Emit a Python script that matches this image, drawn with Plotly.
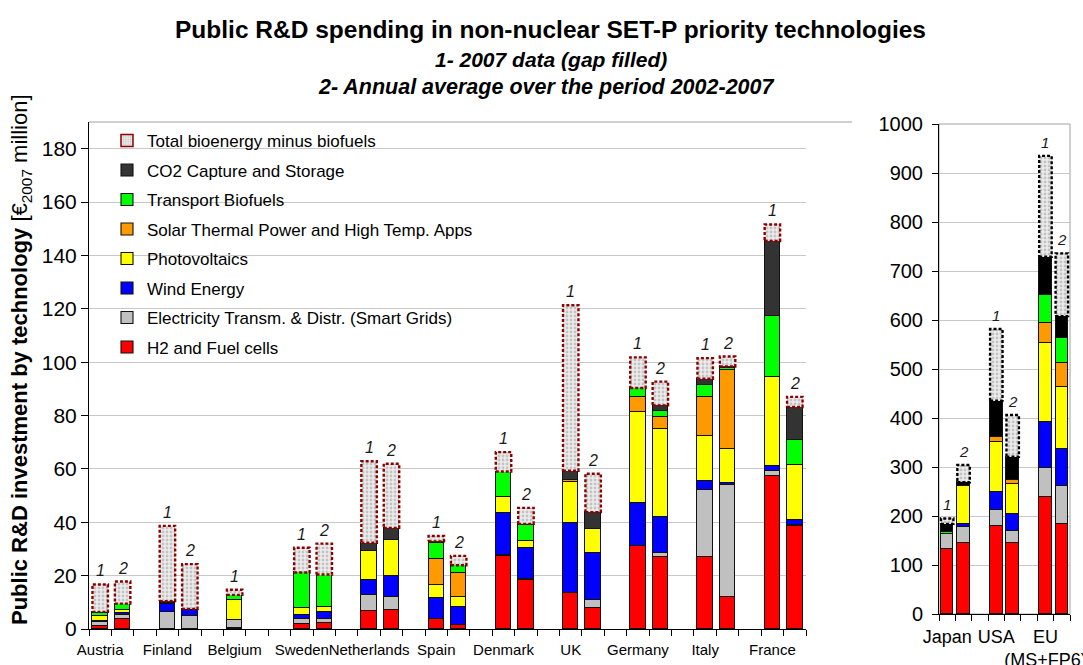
import plotly.graph_objects as go

# ---------------- data ----------------
countries = ["Austria", "Finland", "Belgium", "Sweden", "Netherlands", "Spain",
             "Denmark", "UK", "Germany", "Italy", "France"]

# "1" = 2007 data (gap filled), "2" = annual average 2002-2007  [EUR2007 million]
h2_1      = [1.0, 0.0, 0.3, 1.9, 6.75, 3.9, 27.3, 13.4, 31.1, 27.1, 57.5]
grid_1    = [1.7, 6.5, 3.1, 1.7, 6.1, 0.0, 0.5, 0.0, 0.0, 25.0, 1.6]
wind_1    = [0.3, 2.75, 0.0, 1.6, 5.4, 7.6, 15.7, 26.5, 16.3, 3.3, 1.9]
pv_1      = [1.9, 0.6, 7.5, 2.5, 11.0, 5.0, 6.1, 15.1, 33.9, 17.0, 33.4]
solar_1   = [0.0, 0.0, 0.0, 0.0, 0.0, 9.75, 0.0, 0.9, 5.7, 14.7, 0.0]
biofuel_1 = [1.2, 0.0, 1.9, 13.5, 0.0, 5.9, 9.4, 0.0, 3.3, 4.2, 22.9]
ccs_1     = [0.3, 0.6, 0.0, 0.0, 3.1, 0.7, 0.0, 3.4, 0.0, 2.5, 28.1]
bio_1     = [10.3, 28.2, 1.9, 9.25, 30.5, 2.0, 7.3, 62.0, 11.5, 7.7, 6.2]

h2_2      = [3.7, 0.0, None, 2.1, 7.1, 1.5, 18.3, 7.9, 26.8, 11.9, 38.5]
grid_2    = [1.7, 4.9, None, 1.6, 5.0, 0.0, 0.6, 3.0, 1.8, 41.9, 0.5]
wind_2    = [0.6, 2.2, None, 2.5, 7.6, 6.9, 11.3, 17.7, 13.5, 1.1, 1.9]
pv_2      = [1.0, 0.0, None, 2.1, 13.6, 3.7, 2.6, 8.9, 32.8, 12.4, 20.4]
solar_2   = [0.0, 0.0, None, 0.0, 0.0, 9.0, 0.0, 0.0, 4.6, 29.6, 0.0]
biofuel_2 = [2.5, 0.0, None, 12.1, 0.0, 2.8, 6.3, 0.0, 2.3, 1.0, 9.4]
ccs_2     = [0.0, 0.4, None, 0.0, 4.6, 0.0, 0.3, 6.3, 2.0, 0.5, 12.5]
bio_2     = [8.3, 16.8, None, 11.6, 24.0, 3.5, 6.0, 14.4, 8.9, 3.7, 3.8]

regions = ["Japan", "USA", "EU<br>(MS+FP6)"]
r_h2_1      = [133, 180, 238]
r_grid_1    = [31, 33, 60]
r_wind_1    = [0, 37, 93]
r_pv_1      = [0, 102, 163]
r_solar_1   = [0, 9.5, 39]
r_biofuel_1 = [3, 0, 58]
r_ccs_1     = [17, 74, 78]
r_bio_1     = [11, 146, 206]

r_h2_2      = [145, 145, 184]
r_grid_2    = [33, 25, 77.5]
r_wind_2    = [6, 34, 75.5]
r_pv_2      = [77, 61, 127]
r_solar_2   = [0, 9, 49]
r_biofuel_2 = [0, 0, 51]
r_ccs_2     = [8, 47, 44]
r_bio_2     = [35, 85, 128]

tech_names = ["H2 and Fuel cells", "Electricity Transm. & Distr. (Smart Grids)",
              "Wind Energy", "Photovoltaics", "Solar Thermal Power and High Temp. Apps",
              "Transport Biofuels", "CO2 Capture and Storage"]
bio_name = "Total bioenergy minus biofuels"

# ---------------- styling ----------------
W, H = 1083, 665
FONT = "Liberation Sans, Arial, sans-serif"
NARROW = "Liberation Sans Narrow, Arial Narrow, Liberation Sans, sans-serif"
left_colors = ["#FF0000", "#C0C0C0", "#0000FF", "#FFFF00", "#FF9900", "#00FF00", "#333333"]
right_colors = ["#FF0000", "#C0C0C0", "#0000FF", "#FFFF00", "#FF9900", "#00FF00", "#000000"]

left_1 = [h2_1, grid_1, wind_1, pv_1, solar_1, biofuel_1, ccs_1]
left_2 = [h2_2, grid_2, wind_2, pv_2, solar_2, biofuel_2, ccs_2]
right_1 = [r_h2_1, r_grid_1, r_wind_1, r_pv_1, r_solar_1, r_biofuel_1, r_ccs_1]
right_2 = [r_h2_2, r_grid_2, r_wind_2, r_pv_2, r_solar_2, r_biofuel_2, r_ccs_2]


def nz(v):
    return None if (v is None or v == 0) else v


fig = go.Figure()


def add_chart(series1, series2, bio1, bio2, colors, xa, ya, bar_w, outline_color,
              show_legend, lbl_size):
    n = len(bio1)
    xs = []
    for i in range(n):
        xs += [3 * i, 3 * i + 1]
    # stacked technology segments
    for k in range(len(series1)):
        ys = []
        for i in range(n):
            ys += [nz(series1[k][i]), nz(series2[k][i])]
        fig.add_trace(go.Bar(
            x=xs, y=ys, xaxis=xa, yaxis=ya, width=bar_w, name=tech_names[k],
            marker=dict(color=colors[k], line=dict(color="#111111", width=1.1)),
            showlegend=show_legend, legendgroup=tech_names[k],
            legendrank=len(series1) + 1 - k, hoverinfo="x+y+name"))
    # bioenergy (dotted box)
    ys_bio = []
    for i in range(n):
        ys_bio += [nz(bio1[i]), nz(bio2[i])]
    fig.add_trace(go.Bar(
        x=xs, y=ys_bio, xaxis=xa, yaxis=ya, width=bar_w, name=bio_name,
        marker=dict(color="#e6e6e6", line=dict(width=0),
                    pattern=dict(shape=".", fgcolor="#9a9a9a", bgcolor="#ececec",
                                 size=4, solidity=0.4)),
        showlegend=False, hoverinfo="x+y+name"))
    # dashed outlines + "1"/"2" labels, computed from the stacked values
    ox, oy = [], []
    for i in range(n):
        for j, (ser, bio) in enumerate(((series1, bio1), (series2, bio2))):
            if bio[i] is None:
                continue
            base = sum((s[i] or 0) for s in ser)
            top = base + bio[i]
            x = 3 * i + j
            h = bar_w / 2
            ox += [x - h, x + h, x + h, x - h, x - h, None]
            oy += [base, base, top, top, base, None]
            fig.add_annotation(x=x, y=top, xref=xa, yref=ya, text=str(j + 1),
                               showarrow=False, yanchor="bottom", yshift=3,
                               font=dict(family=FONT, size=lbl_size, color="#1a1a1a",
                                         style="italic"))
    fig.add_trace(go.Scatter(
        x=ox, y=oy, xaxis=xa, yaxis=ya, mode="lines", showlegend=False,
        line=dict(color=outline_color, width=2.4, dash="3px,2px"), hoverinfo="skip"))


add_chart(left_1, left_2, bio_1, bio_2, left_colors, "x", "y", 0.69, "#8B0000", True, 16)
add_chart(right_1, right_2, r_bio_1, r_bio_2, right_colors, "x2", "y2", 0.76, "#000000", False, 15)

# legend-only entry for the bioenergy box
fig.add_trace(go.Bar(
    x=[None], y=[None], name=bio_name, legendgroup=bio_name, legendrank=0,
    marker=dict(color="#e6e6e6", line=dict(color="#8B0000", width=1.5),
                pattern=dict(shape=".", fgcolor="#9a9a9a", bgcolor="#ececec",
                             size=3, solidity=0.4))))

# ---------------- layout ----------------
L0, L1, LT, LB = 89, 806, 122, 629
R0, R1, RT, RB = 939, 1070, 124, 614

axis_common = dict(showline=True, linecolor="#000000", linewidth=1, zeroline=False,
                   automargin=False)

fig.update_layout(
    width=W, height=H, barmode="stack", bargap=0,
    margin=dict(l=0, r=0, t=0, b=0, autoexpand=False),
    paper_bgcolor="white", plot_bgcolor="white",
    font=dict(family=FONT, color="#000000"),
    xaxis=dict(domain=[L0 / W, L1 / W], range=[-0.5, 31.5], anchor="y",
               tickmode="array", tickvals=[3 * i for i in range(len(countries))],
               ticktext=countries, ticks="", tickangle=0, ticklabelstandoff=7,
               ticklabeloverflow="allow",
               tickfont=dict(family=NARROW, size=15),
               minor=dict(ticks="outside", tickmode="array",
                          tickvals=[k - 0.5 for k in range(33)], ticklen=6,
                          tickcolor="#000000"),
               showgrid=False, **axis_common),
    yaxis=dict(domain=[1 - LB / H, 1 - LT / H], range=[0, 190], anchor="x",
               tickmode="array", tickvals=list(range(0, 181, 20)),
               ticks="outside", ticklen=7, tickcolor="#000000", tickfont=dict(size=21),
               showgrid=True, gridcolor="#c8c8c8", gridwidth=1, **axis_common),
    xaxis2=dict(domain=[R0 / W, R1 / W], range=[-0.5, 7.5], anchor="y2",
                tickmode="array", tickvals=[0, 3, 6], ticktext=regions, ticks="",
                tickangle=0, ticklabelstandoff=6, tickfont=dict(size=18),
                ticklabeloverflow="allow",
                minor=dict(ticks="outside", tickmode="array",
                           tickvals=[k - 0.5 for k in range(9)], ticklen=6,
                           tickcolor="#000000"),
                showgrid=False, **axis_common),
    yaxis2=dict(domain=[1 - RB / H, 1 - RT / H], range=[0, 1000], anchor="x2",
                tickmode="array", tickvals=list(range(0, 1001, 100)),
                ticks="outside", ticklen=6, tickcolor="#000000", tickfont=dict(size=20),
                ticklabelstandoff=5,
                showgrid=True, gridcolor="#c8c8c8", gridwidth=1, **axis_common),
    legend=dict(x=107 / W, y=1 - 123 / H, xanchor="left", yanchor="top",
                traceorder="grouped", tracegroupgap=4.4, bgcolor="rgba(0,0,0,0)",
                font=dict(family=FONT, size=17, color="#000000"),
                itemclick=False, itemdoubleclick=False),
)

# plot-area frames
fig.add_shape(type="line", xref="paper", yref="paper", x0=L0 / W, x1=852 / W,
              y0=1 - LT / H, y1=1 - LT / H, line=dict(color="#a0a0a0", width=1), layer="below")
fig.add_shape(type="rect", xref="x2 domain", yref="y2 domain", x0=0, x1=1, y0=0, y1=1,
              line=dict(color="#a0a0a0", width=1), layer="below")

# titles
fig.add_annotation(x=550 / W, y=1 - 29 / H, xref="paper", yref="paper", showarrow=False,
                   xanchor="center", yanchor="middle",
                   text="<b>Public R&D spending in non-nuclear SET-P priority technologies</b>",
                   font=dict(family=FONT, size=24.5, color="#000000"))
fig.add_annotation(x=551 / W, y=1 - 59 / H, xref="paper", yref="paper", showarrow=False,
                   xanchor="center", yanchor="middle",
                   text="<b><i>1- 2007 data (gap filled)</i></b>",
                   font=dict(family=FONT, size=21, color="#000000"))
fig.add_annotation(x=546 / W, y=1 - 87 / H, xref="paper", yref="paper", showarrow=False,
                   xanchor="center", yanchor="middle",
                   text="<b><i>2- Annual average over the period 2002-2007</i></b>",
                   font=dict(family=FONT, size=21.5, color="#000000"))
fig.add_annotation(x=21 / W, y=1 - 360 / H, xref="paper", yref="paper", showarrow=False,
                   textangle=-90, xanchor="center", yanchor="middle",
                   text="<b>Public R&D investment by technology</b> [€<sub>2007</sub> million]",
                   font=dict(family=FONT, size=22, color="#000000"))

fig.write_html("out.html", config={"displayModeBar": False},
               post_script="document.body.style.margin='0px';")
